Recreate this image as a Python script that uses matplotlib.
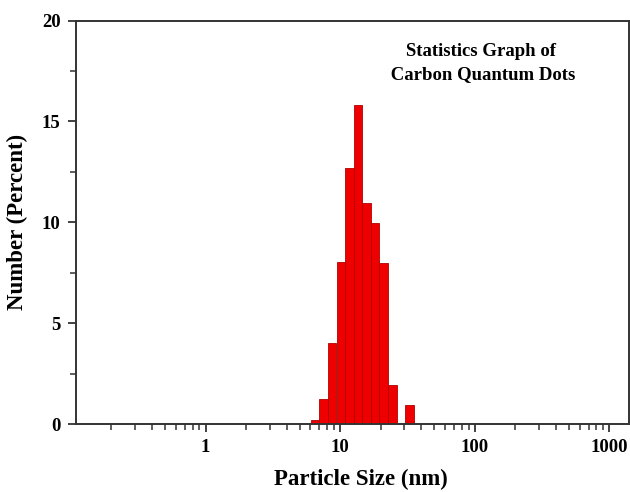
import numpy as np
import matplotlib.pyplot as plt
from matplotlib.ticker import LogLocator, FixedLocator, NullFormatter

# DLS size classes (nm) and number distribution (%)
sizes = [6.503, 7.531, 8.721, 10.1, 11.7, 13.54, 15.69, 18.17, 21.04, 24.36, 28.21, 32.67]
number = [0.2, 1.25, 4.0, 8.05, 12.7, 15.8, 10.95, 9.95, 8.0, 1.95, 0.0, 0.95]

ratio = 1.158  # size step between neighbouring classes

plt.rcParams['font.family'] = ['Liberation Serif', 'DejaVu Serif']
plt.rcParams['font.weight'] = 'bold'

fig = plt.figure(figsize=(6.3, 4.92), dpi=100)
ax = fig.add_axes([0.1206, 0.1382, 0.8774, 0.8198])

sizes = np.array(sizes)
left = sizes / np.sqrt(ratio)
right = sizes * np.sqrt(ratio)
ax.bar(left, number, width=right - left, align='edge',
       color='#ee0000', edgecolor='#b00000', linewidth=0.6)

ax.set_xscale('log')
ax.set_xlim(0.109, 1390)
ax.set_ylim(0, 20)

ax.xaxis.set_major_locator(FixedLocator([1, 10, 100, 1000]))
ax.set_xticklabels(['1', '10', '100', '1000'])
ax.xaxis.set_minor_locator(LogLocator(base=10, subs=np.arange(2, 10)))
ax.xaxis.set_minor_formatter(NullFormatter())
ax.set_yticks([0, 5, 10, 15, 20])
ax.set_yticks([2.5, 7.5, 12.5, 17.5], minor=True)

for s in ax.spines.values():
    s.set_color('#333333')
    s.set_linewidth(1.4)

ax.tick_params(which='major', direction='out', length=6, width=1.3, color='#333333',
               labelsize=13.5, pad=5)
ax.tick_params(which='minor', direction='out', length=4, width=1.1, color='#333333')

ax.set_xlabel('Particle Size (nm)', fontsize=16.5, fontweight='bold', labelpad=10)
ax.xaxis.set_label_coords(0.515, -0.112)
ax.set_ylabel('Number (Percent)', fontsize=16.5, fontweight='bold', labelpad=10)

ax.text(0.733, 0.945, 'Statistics Graph of\n Carbon Quantum Dots', transform=ax.transAxes,
        ha='center', va='top', fontsize=13.5, fontweight='bold', linespacing=1.45)

fig.savefig('out.png', dpi=100)
